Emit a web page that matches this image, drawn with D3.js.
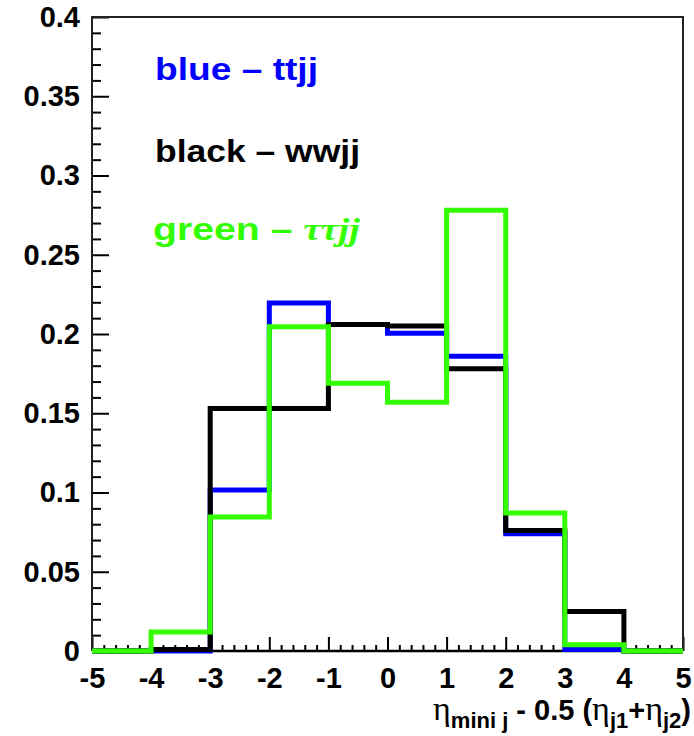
<!DOCTYPE html>
<html>
<head>
   <title>eta mini j distributions</title>
   <script src="https://d3js.org/d3.v7.min.js"></script>
   <style>
      body { margin: 0; background: #fff; }
      text { font-family: "Liberation Sans", Arial, sans-serif; font-weight: bold; }
   </style>
</head>
<body>
   <script>
      // bin edges and per-bin values
      var binEdges = [-5, -4, -3, -2, -1, 0, 1, 2, 3, 4, 5]
      var ttjj = [0, 0, 0.1016, 0.2195, 0.206, 0.2004, 0.186, 0.074, 0.001, 0]
      var wwjj = [0, 0.001, 0.153, 0.153, 0.206, 0.205, 0.178, 0.076, 0.025, 0]
      var tautaujj = [0, 0.012, 0.0845, 0.2046, 0.169, 0.157, 0.278, 0.087, 0.004, 0]

      var xTicks = [-5, -4, -3, -2, -1, 0, 1, 2, 3, 4, 5]
      var xTickLabels = ["-5", "-4", "-3", "-2", "-1", "0", "1", "2", "3", "4", "5"]
      var yTicks = [0, 0.05, 0.1, 0.15, 0.2, 0.25, 0.3, 0.35, 0.4]
      var yTickLabels = ["0", "0.05", "0.1", "0.15", "0.2", "0.25", "0.3", "0.35", "0.4"]

      var W = 694, H = 736
      var padL = 92, padR = 683, padT = 17, padB = 651

      var x = d3.scaleLinear().domain([-5, 5]).range([padL, padR])
      var y = d3.scaleLinear().domain([0, 0.4]).range([padB, padT])

      var svg = d3.select("body").append("svg").attr("width", W).attr("height", H)

      // minor ticks
      var xMinor = d3.range(-50, 51, 2).map(d => d / 10).filter(d => Math.abs(d - Math.round(d)) > 1e-6)
      var yMinor = d3.range(0, 41).map(d => d / 100).filter(d => Math.round(d * 100) % 5 !== 0)

      svg.append("g").attr("transform", `translate(0,${padB})`)
         .call(d3.axisBottom(x).tickValues(xMinor).tickSize(-6).tickFormat(""))
         .call(s => s.select(".domain").remove())
      svg.append("g").attr("transform", `translate(${padL},0)`)
         .call(d3.axisLeft(y).tickValues(yMinor).tickSize(-9).tickFormat(""))
         .call(s => s.select(".domain").remove())

      // major ticks + labels
      var xAxis = svg.append("g").attr("transform", `translate(0,${padB})`)
         .call(d3.axisBottom(x).tickValues(xTicks).tickSize(-14).tickPadding(16)
            .tickFormat((d, i) => xTickLabels[i]))
      xAxis.select(".domain").remove()
      xAxis.selectAll("text").attr("font-size", 29).attr("fill", "#000")
         .style("font-family", "'Liberation Sans', Arial, sans-serif")

      var yAxis = svg.append("g").attr("transform", `translate(${padL},0)`)
         .call(d3.axisLeft(y).tickValues(yTicks).tickSize(-17).tickPadding(12)
            .tickFormat((d, i) => yTickLabels[i]))
      yAxis.select(".domain").remove()
      yAxis.selectAll("text").attr("font-size", 29).attr("fill", "#000")
         .style("font-family", "'Liberation Sans', Arial, sans-serif")

      svg.selectAll(".tick line").attr("stroke", "#000").attr("stroke-width", 2)

      // frame
      svg.append("path")
         .attr("d", `M${padL},${padB}V${padT}H${padR}V${padB}`)
         .attr("fill", "none").attr("stroke", "#222").attr("stroke-width", 2)
      svg.append("line").attr("x1", padL).attr("x2", padR).attr("y1", padB).attr("y2", padB)
         .attr("stroke", "#000").attr("stroke-width", 2.5)

      // histograms as step outlines
      function outline(vals) {
         var pts = [[binEdges[0], 0]]
         vals.forEach((v, i) => {
            pts.push([binEdges[i], v])
            pts.push([binEdges[i + 1], v])
         })
         pts.push([binEdges[binEdges.length - 1], 0])
         return pts
      }
      var line = d3.line().x(d => x(d[0])).y(d => y(d[1]))

      var series = [
         { name: "ttjj", vals: ttjj, color: "#0000ff" },
         { name: "wwjj", vals: wwjj, color: "#000000" },
         { name: "tautaujj", vals: tautaujj, color: "#33ff00" }
      ]
      svg.selectAll("path.hist").data(series).enter().append("path")
         .attr("class", "hist")
         .attr("d", d => line(outline(d.vals)))
         .attr("fill", "none")
         .attr("stroke", d => d.color)
         .attr("stroke-width", 5)
         .attr("stroke-linejoin", "miter")

      // legend texts
      svg.append("text").attr("x", 155).attr("y", 80).attr("font-size", 32)
         .attr("fill", "#0000ff").attr("textLength", 163).attr("lengthAdjust", "spacingAndGlyphs")
         .text("blue \u2013 ttjj")
      svg.append("text").attr("x", 155).attr("y", 162).attr("font-size", 32)
         .attr("fill", "#000").attr("textLength", 205).attr("lengthAdjust", "spacingAndGlyphs")
         .text("black \u2013 wwjj")
      var gl = svg.append("text").attr("x", 153).attr("y", 240).attr("font-size", 32)
         .attr("fill", "#33ff00").attr("textLength", 207).attr("lengthAdjust", "spacingAndGlyphs")
      gl.append("tspan").text("green \u2013 ")
      gl.append("tspan").style("font-family", "'Liberation Serif', serif").attr("font-style", "italic")
         .text("\u03c4\u03c4jj")

      // x axis title
      var t = svg.append("text").attr("x", 691).attr("y", 720).attr("text-anchor", "end")
         .attr("font-size", 29).attr("fill", "#000")
      function eta() {
         t.append("tspan").style("font-family", "'Liberation Serif', serif").style("font-weight", "normal")
            .attr("font-size", 34).text("\u03b7")
      }
      function sub(s) {
         t.append("tspan").attr("font-size", 22).attr("dy", 8).text(s)
      }
      function up(s) {
         t.append("tspan").attr("dy", -8).text(s)
      }
      eta(); sub("mini j"); up(" - 0.5 (")
      eta(); sub("j1"); up("+")
      eta(); sub("j2"); up(")")
   </script>
</body>
</html>
